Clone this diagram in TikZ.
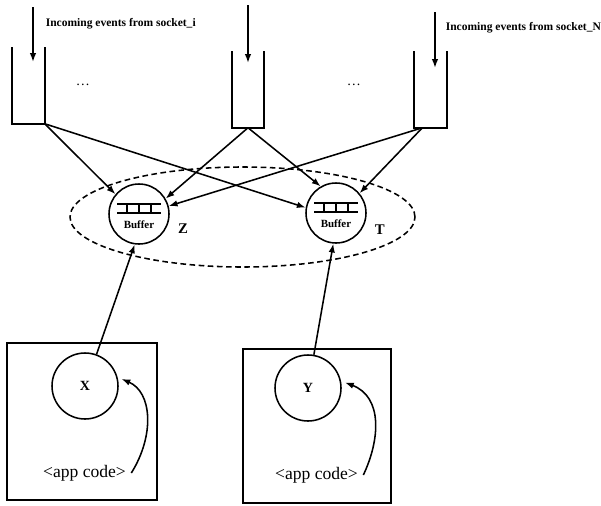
\documentclass[tikz,border=0pt]{standalone}
\usepackage{fontspec}
\setmainfont{Liberation Serif}
\usetikzlibrary{arrows.meta,calc,shapes.geometric}

\begin{document}
\begin{tikzpicture}[
  x=0.25mm, y=-0.25mm,
  line width=1.1pt,
  queue/.style={minimum width=7.75mm,minimum height=18.75mm,inner sep=0pt},
  buffer/.style={draw,circle,fill=white,minimum size=15mm,inner sep=0pt},
  proc/.style={draw,circle,fill=white,minimum size=16.5mm,inner sep=0pt,
               font=\bfseries\fontsize{10}{12}\selectfont},
  host/.style={draw,minimum width=37mm,minimum height=38.5mm,inner sep=0pt},
  incoming/.style={font=\bfseries\fontsize{8.2}{9}\selectfont,anchor=west,inner sep=0pt},
  tag/.style={font=\bfseries\fontsize{10.5}{12}\selectfont},
  code/.style={font=\fontsize{12.5}{14}\selectfont},
  >={Latex[length=2.2mm,width=1.6mm]}
]
  \useasboundingbox (0,0) rectangle (601,505);

  % socket queues
  \node[queue] (qi) at (28.5,85.5) {};
  \node[queue,minimum width=7.5mm] (qm) at (248,89.5) {};
  \node[queue] (qn) at (430.5,89.5) {};
  \draw (qi.north west) |- (qi.south east) -- (qi.north east);
  \draw (qm.north west) |- (qm.south east) -- (qm.north east);
  \draw (qn.north west) |- (qn.south east) -- (qn.north east);
  \coordinate (ini) at (33,7);
  \coordinate (inm) at (248,5);
  \coordinate (inn) at (435,12);
  \draw[->] (ini) -- ++(0,55);
  \draw[->] (inm) -- ++(0,58);
  \draw[->] (inn) -- ++(0,56);
  \node[incoming] (lbli) at (45,24) {Incoming events from socket\_i};
  \node[incoming] (lbln) at (445,28) {Incoming events from socket\_N};
  \node[font=\fontsize{10}{11}\selectfont] (dots1) at (83,85) {\dots};
  \node[font=\fontsize{10}{11}\selectfont] (dots2) at (354,85) {\dots};

  % buffers
  \node[draw,ellipse,dash pattern=on 4pt off 2.5pt,minimum width=86.25mm,
        minimum height=25mm,inner sep=0pt] (pool) at (242.5,217) {};
  \node[buffer,label={[tag,label distance=0.8mm]-8:Z}] (bufZ) at (139,214) {};
  \node[buffer,label={[tag,label distance=0.8mm]-10:T}] (bufT) at (336,213) {};
  \foreach \b in {bufZ,bufT} {
    \draw[line width=0.8pt] ($(\b)+(-22,-10)$) -- ++(44,0);
    \draw[line width=0.8pt] ($(\b)+(-22,-1)$) -- ++(44,0);
    \foreach \dx in {-12,0,12}
      \draw[line width=0.8pt] ($(\b)+(\dx,-10)$) -- ++(0,9);
    \node[font=\bfseries\fontsize{7.8}{9}\selectfont] (\b-txt) at ($(\b)+(0,11)$) {Buffer};
  }
  \draw[->] (qi.south east) -- (bufZ.140);
  \draw[->] (qi.south east) -- (bufT.170);
  \draw[->] (qm.south) -- (bufZ.30);
  \draw[->] (qm.south) -- (bufT.120);
  \draw[->] (qn.258) -- (bufZ.15);
  \draw[->] (qn.258) -- (bufT.40);

  % applications
  \node[host,minimum width=37.5mm,minimum height=39.25mm] (host1) at (82,421.5) {};
  \node[host] (host2) at (317,426) {};
  \node[proc] (procX) at (85,386) {X};
  \node[proc] (procY) at (308,388) {Y};
  \node[code] (code1) at (84.5,473) {<app code>};
  \node[code] (code2) at (316.5,475) {<app code>};
  \draw[->] (procX.70) -- (bufZ.262);
  \draw[->] (procY.80) -- (bufT.265);
  \draw[->,shorten >=3pt] (code1.east) .. controls (155,435) and (152,392) .. (procX.15);
  \draw[->,shorten >=3pt] (code2.east) .. controls (380,440) and (383,397) .. (procY.12);
\end{tikzpicture}
\end{document}
